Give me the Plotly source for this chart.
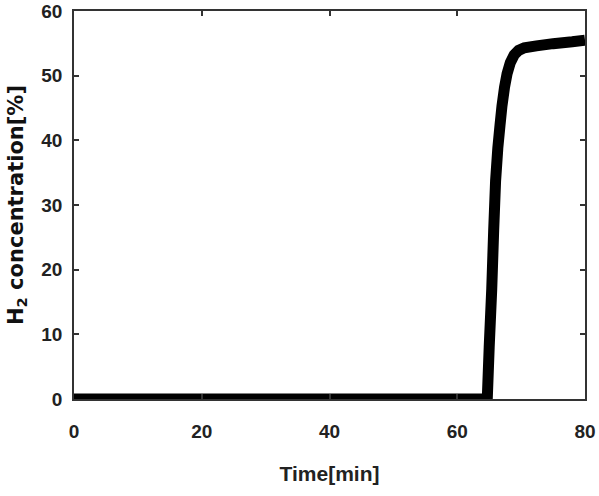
import plotly.graph_objects as go

time_min = [0, 64.7, 65.0, 65.4, 65.7, 66.0, 66.35, 66.7, 67.0, 67.4, 67.8, 68.3, 68.9, 69.6, 70.5, 72.4, 75.0, 78.0, 80.0]
h2_pct = [0, 0, 8, 17, 26, 33.7, 38.8, 42.4, 45.3, 48.2, 50.3, 52.0, 53.2, 53.9, 54.3, 54.6, 54.95, 55.25, 55.5]

x_ticks = [0, 20, 40, 60, 80]
y_ticks = [0, 10, 20, 30, 40, 50, 60]

tick_font = dict(family="Liberation Sans, Arial, sans-serif", size=19, color="#222", weight="bold")

fig = go.Figure()
fig.add_trace(go.Scatter(
    x=time_min, y=h2_pct, mode="lines",
    line=dict(color="black", width=11, shape="linear", simplify=False),
    showlegend=False, cliponaxis=False,
))

axis_common = dict(
    showgrid=False, zeroline=False, showline=True, linecolor="#333", linewidth=1.5,
    mirror="ticks", ticks="inside", ticklen=5, tickcolor="#333", tickwidth=1.5,
    tickfont=tick_font, automargin=False,
)

fig.update_layout(
    width=599, height=496,
    margin=dict(l=74, r=14, t=11, b=97, autoexpand=False),
    paper_bgcolor="white", plot_bgcolor="white",
    xaxis=dict(range=[0, 80], tickvals=x_ticks, ticklabelstandoff=14,
               title=dict(text="<b>Time[min]</b>", standoff=26,
                          font=dict(family="Liberation Sans, Arial, sans-serif", size=21, color="#222")),
               **axis_common),
    yaxis=dict(range=[0, 60], tickvals=y_ticks, ticklabelstandoff=6,
               title=dict(text="<b>H<sub>2</sub> concentration[%]</b>", standoff=12,
                          font=dict(family="DejaVu Sans, sans-serif", size=21, color="#111")),
               **axis_common),
)

fig.write_html("out.html")
